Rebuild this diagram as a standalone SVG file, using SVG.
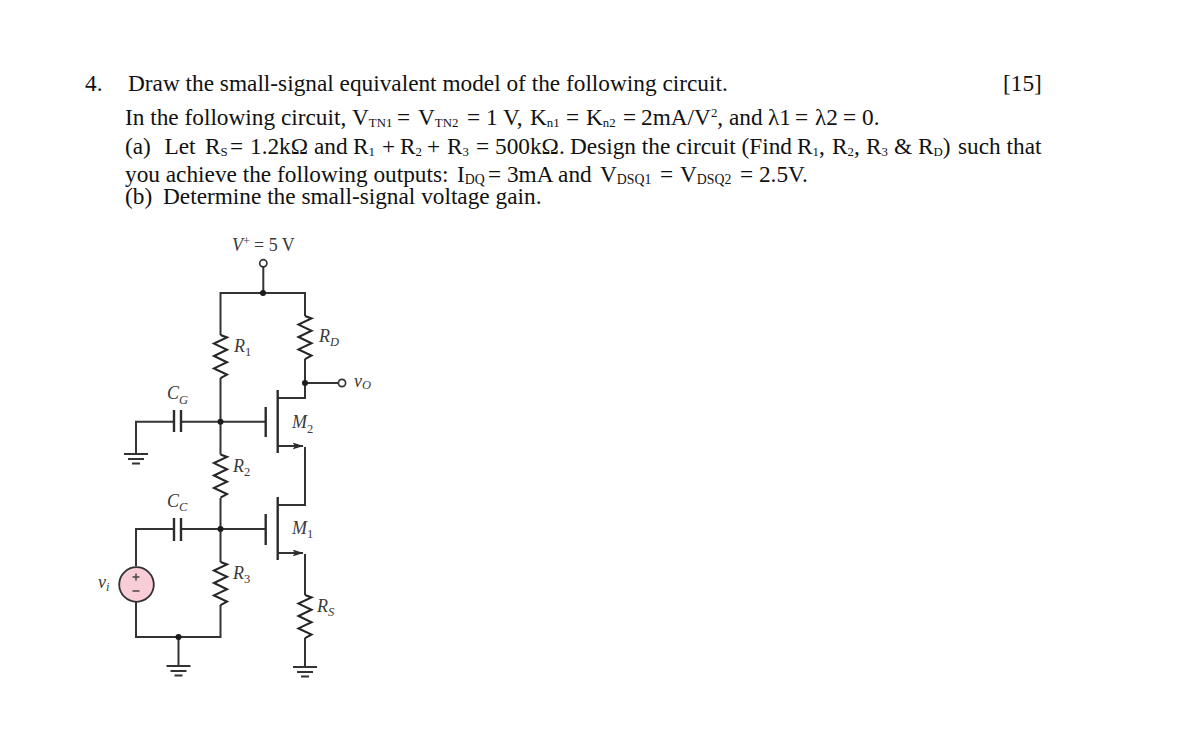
<svg xmlns="http://www.w3.org/2000/svg" width="1179" height="737" viewBox="0 0 1179 737">
<style>
.t{font-family:"Liberation Serif","Times New Roman",serif;font-size:23.3px;fill:#111}
.s{font-size:12.8px}
.q{font-size:13.8px}
.w{fill:none;stroke:#333;stroke-width:2}
.r{fill:none;stroke:#262626;stroke-width:2.1}
.b{fill:none;stroke:#2c2c2c;stroke-width:2.4}
.d{fill:#1c1c1c}
.o{fill:#fff;stroke:#333;stroke-width:1.7}
.l{font-family:"Liberation Serif","Times New Roman",serif;font-style:italic;font-size:18px;fill:#3a3a3a}
.ls{font-size:12.5px}
.u{font-style:normal}
.n{font-family:"Liberation Serif","Times New Roman",serif;font-size:18px;fill:#3a3a3a}
</style>
<defs>
<path id="zig" class="r" d="M0 0L6.5 2.4L-6.5 8.6L6.5 14.8L-6.5 21L6.5 27.2L-6.5 33.4L6.5 39.6L0 43.2"/>
<path id="gnd" class="w" d="M-12 0H12M-8 5H8M-4 9.5H4"/>
<marker id="ah" markerWidth="11" markerHeight="7" refX="10.5" refY="3.5" orient="auto" markerUnits="userSpaceOnUse"><path d="M0 0L11 3.5L0 7L2.5 3.5Z" fill="#2c2c2c"/></marker>
</defs>
<rect width="1179" height="737" fill="#fff"/>
<g id="question-text">
<text class="t" x="85" y="91">4.</text>
<text class="t" x="128" y="91">Draw the small-signal equivalent model of the following circuit.</text>
<text class="t" x="1003" y="91">[15]</text>
<text class="t" y="125"><tspan x="125">In the following circuit,</tspan><tspan x="352">V</tspan><tspan class="s" dy="2">TN1</tspan><tspan x="397" dy="-2">=</tspan><tspan x="418">V</tspan><tspan class="s" dy="2">TN2</tspan><tspan x="467" dy="-2">= 1 V,</tspan><tspan x="530">K</tspan><tspan class="s" dy="2">n1</tspan><tspan x="566" dy="-2">=</tspan><tspan x="586">K</tspan><tspan class="s" dy="2">n2</tspan><tspan x="623" dy="-2">=</tspan><tspan x="641">2mA/V</tspan><tspan class="s" dy="-8">2</tspan><tspan dy="8">, and</tspan><tspan x="768">λ1</tspan><tspan x="795">=</tspan><tspan x="815">λ2</tspan><tspan x="843">=</tspan><tspan x="862">0.</tspan></text>
<text class="t" y="154"><tspan x="125">(a)</tspan><tspan x="164.500">Let</tspan><tspan x="205">R</tspan><tspan class="s" dy="2">S</tspan><tspan x="230" dy="-2">=</tspan><tspan x="250">1.2kΩ and</tspan><tspan x="353">R</tspan><tspan class="s" dy="2">1</tspan><tspan x="382" dy="-2">+</tspan><tspan x="400">R</tspan><tspan class="s" dy="2">2</tspan><tspan x="427" dy="-2">+</tspan><tspan x="447">R</tspan><tspan class="s" dy="2">3</tspan><tspan x="476" dy="-2">=</tspan><tspan x="495">500kΩ.</tspan><tspan x="570">Design the circuit (Find</tspan><tspan x="797">R</tspan><tspan class="s" dy="2">1</tspan><tspan dy="-2">,</tspan><tspan x="832">R</tspan><tspan class="s" dy="2">2</tspan><tspan dy="-2">,</tspan><tspan x="866">R</tspan><tspan class="s" dy="2">3</tspan><tspan x="894" dy="-2">&amp;</tspan><tspan x="918">R</tspan><tspan class="s" dy="2">D</tspan><tspan dy="-2">)</tspan><tspan x="958">such that</tspan></text>
<text class="t" y="182"><tspan x="125">you achieve the following outputs:</tspan><tspan x="457">I</tspan><tspan class="q" dy="2">DQ</tspan><tspan x="488" dy="-2">= 3mA and</tspan><tspan x="600">V</tspan><tspan class="q" dy="2">DSQ1</tspan><tspan x="660" dy="-2">=</tspan><tspan x="680">V</tspan><tspan class="q" dy="2">DSQ2</tspan><tspan x="740" dy="-2">= 2.5V.</tspan></text>
<text class="t" y="204"><tspan x="125">(b)</tspan><tspan x="163">Determine the small-signal voltage gain.</tspan></text>
</g>
<g id="connectors">
<path class="w" d="M263.3 267V293M220.5 335V293H305V316M220.5 378V454.5M220.5 498V562M220.5 605V637H136V602M136 566V529H174M181 529H265.7M136 454V421.7H174M181 421.7H265.7"/>
<path class="w" d="M305 359V398H278M305 383H338.5M305 447V505H278M305 554V595M305 638V667M178.5 637V666"/>
<path class="w" d="M278 446H303" marker-end="url(#ah)"/>
<path class="w" d="M278 553H303" marker-end="url(#ah)"/>
</g>
<g id="vplus"><circle class="o" cx="263.3" cy="263.3" r="3.6"/><text class="n" x="232" y="251"><tspan class="l">V</tspan><tspan class="ls" dy="-6">+</tspan><tspan x="254" dy="6">= 5 V</tspan></text></g>
<g id="R1"><use href="#zig" x="220.5" y="335"/><text class="l" x="234" y="352">R<tspan class="ls u" dy="4">1</tspan></text></g>
<g id="R2"><use href="#zig" x="220.5" y="454.5"/><text class="l" x="233" y="472">R<tspan class="ls u" dy="4">2</tspan></text></g>
<g id="R3"><use href="#zig" x="220.5" y="562"/><text class="l" x="233" y="579">R<tspan class="ls u" dy="4">3</tspan></text></g>
<g id="RD"><use href="#zig" x="305" y="316"/><text class="l" x="319" y="342">R<tspan class="ls" dy="4">D</tspan></text></g>
<g id="RS"><use href="#zig" x="305" y="595"/><text class="l" x="317" y="612">R<tspan class="ls" dy="4">S</tspan></text></g>
<g id="CG"><path class="b" d="M174 410V432M181 410V432"/><text class="l" x="167" y="399">C<tspan class="ls" dy="5">G</tspan></text></g>
<g id="CC"><path class="b" d="M174 518V541M181 518V541"/><text class="l" x="167" y="507">C<tspan class="ls" dy="4">C</tspan></text></g>
<g id="M2"><path class="b" d="M265.7 407V437M277.7 390V453"/><text class="l" x="292" y="428">M<tspan class="ls u" dy="5">2</tspan></text></g>
<g id="M1"><path class="b" d="M265.7 514V545M277.7 497V560"/><text class="l" x="292" y="534">M<tspan class="ls u" dy="4">1</tspan></text></g>
<g id="vo"><circle class="o" cx="342" cy="383" r="3.6"/><text class="l" x="354" y="387">v<tspan class="ls" dy="2">O</tspan></text></g>
<g id="vi"><circle cx="136.5" cy="584.5" r="17.3" fill="#f8cdd8" stroke="#333" stroke-width="1.8"/><path fill="none" stroke="#444" stroke-width="1.5" d="M132.5 577H139.5M136 573.5V580.500M132.5 591H139.5"/><text class="l" x="98" y="588">v<tspan class="ls" dy="3">i</tspan></text></g>
<g id="junctions"><circle class="d" cx="263" cy="293" r="3"/><circle class="d" cx="305" cy="383" r="3"/><circle class="d" cx="220.5" cy="421.7" r="3"/><circle class="d" cx="220.5" cy="529" r="3"/><circle class="d" cx="178.5" cy="637" r="3"/></g>
<g id="gnd-cg"><use href="#gnd" x="136" y="454"/></g>
<g id="gnd-in"><use href="#gnd" x="178.5" y="666"/></g>
<g id="gnd-rs"><use href="#gnd" x="305" y="667"/></g>
</svg>
